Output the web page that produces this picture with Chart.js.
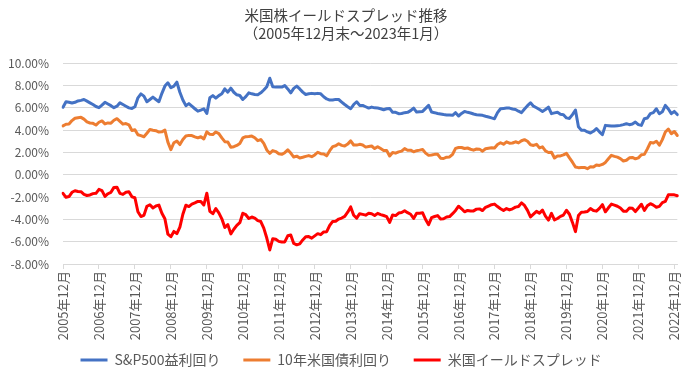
<!DOCTYPE html>
<html><head><meta charset="utf-8">
<script src="https://cdn.jsdelivr.net/npm/chart.js@4/dist/chart.umd.min.js"></script>
<style>html,body{margin:0;padding:0;background:#fff}</style>
</head><body>
<canvas id="c" width="692" height="381"></canvas>
<script>
// Categories: month-end from 2005年12月 to 2023年1月
const startYear = 2005, startMonth = 12, monthCount = 206;
const categories = [];
for (let i = 0; i < monthCount; i++) {
  const m = (startMonth - 1 + i) % 12 + 1;
  const y = startYear + Math.floor((startMonth - 1 + i) / 12);
  categories.push(y + '年' + m + '月');
}
const titleLines = ['米国株イールドスプレッド推移', '（2005年12月末～2023年1月）'];
const seriesNames = ['S&P500益利回り', '10年米国債利回り', '米国イールドスプレッド'];
const yTicks = [-8, -6, -4, -2, 0, 2, 4, 6, 8, 10];

const sp500Yield = [
6.05,6.55,6.50,6.43,6.50,6.62,6.67,6.75,6.60,6.45,6.30,6.12,
6.02,6.25,6.50,6.35,6.20,6.02,6.15,6.45,6.30,6.15,6.00,5.95,
6.10,6.90,7.25,7.05,6.55,6.75,6.96,6.75,6.55,7.30,7.95,8.25,
7.80,7.95,8.30,7.40,6.70,6.20,6.38,6.15,5.92,5.70,5.80,5.92,
5.50,6.90,7.10,6.87,7.10,7.26,7.70,7.41,7.77,7.40,7.17,7.11,
6.75,7.00,7.35,7.26,7.20,7.17,7.35,7.60,7.90,8.66,7.90,7.86,
7.86,7.86,8.00,7.70,7.35,7.75,7.95,7.70,7.41,7.20,7.26,7.30,
7.26,7.30,7.26,7.00,6.80,6.70,6.70,6.76,6.75,6.52,6.30,6.10,
5.92,6.30,6.55,6.22,6.22,6.10,5.98,6.07,6.00,5.98,5.92,5.83,
5.92,5.95,5.60,5.60,5.48,5.50,5.57,5.60,5.75,5.98,5.62,5.65,
5.68,5.95,6.22,5.62,5.57,5.50,5.45,5.40,5.37,5.35,5.33,5.57,
5.27,5.50,5.68,5.60,5.54,5.45,5.39,5.36,5.33,5.25,5.18,5.10,
5.03,5.57,5.92,5.95,5.98,5.98,5.90,5.86,5.70,5.57,5.90,6.20,
6.46,6.15,6.01,5.85,5.68,5.85,6.07,5.48,5.55,5.60,5.42,5.39,
5.10,5.05,5.40,5.80,4.30,4.00,4.00,3.84,3.75,3.90,4.14,3.85,
3.60,4.43,4.40,4.37,4.37,4.40,4.43,4.50,4.58,4.49,4.55,4.73,
4.50,4.43,5.03,5.09,5.48,5.57,5.92,5.48,5.65,6.22,5.90,5.48,
5.68,5.40];

const treasury10y = [
4.39,4.53,4.55,4.86,5.07,5.12,5.15,4.99,4.74,4.64,4.61,4.46,
4.71,4.83,4.56,4.65,4.63,4.89,5.03,4.78,4.54,4.59,4.48,3.97,
4.04,3.59,3.51,3.41,3.73,4.06,3.99,3.95,3.83,3.85,4.01,2.93,
2.25,2.87,3.02,2.71,3.16,3.47,3.53,3.52,3.40,3.31,3.41,3.21,
3.85,3.63,3.61,3.84,3.69,3.31,2.97,2.94,2.47,2.52,2.63,2.81,
3.30,3.42,3.43,3.47,3.32,3.06,3.16,2.82,2.23,1.92,2.17,2.08,
1.89,1.83,1.98,2.23,1.95,1.59,1.67,1.51,1.57,1.65,1.72,1.62,
1.78,2.02,1.89,1.87,1.70,2.16,2.52,2.60,2.78,2.64,2.57,2.75,
3.04,2.67,2.66,2.73,2.67,2.48,2.53,2.58,2.35,2.52,2.35,2.18,
2.17,1.68,2.00,1.94,2.05,2.12,2.35,2.20,2.21,2.06,2.16,2.21,
2.27,1.94,1.74,1.78,1.83,1.84,1.49,1.46,1.58,1.60,1.84,2.37,
2.45,2.45,2.36,2.40,2.29,2.21,2.31,2.30,2.12,2.33,2.38,2.42,
2.40,2.72,2.87,2.74,2.95,2.83,2.85,2.96,2.86,3.05,3.15,3.01,
2.69,2.63,2.73,2.41,2.51,2.14,2.00,2.02,1.50,1.68,1.69,1.78,
1.92,1.51,1.13,0.70,0.64,0.65,0.66,0.55,0.72,0.69,0.88,0.84,
0.93,1.11,1.44,1.74,1.65,1.58,1.45,1.24,1.30,1.52,1.55,1.43,
1.52,1.79,1.83,2.32,2.89,2.85,3.01,2.65,3.15,3.83,4.10,3.68,
3.88,3.52];

const yieldSpread = [
-1.66,-2.02,-1.95,-1.57,-1.43,-1.50,-1.52,-1.76,-1.86,-1.81,-1.69,-1.66,
-1.31,-1.42,-1.94,-1.70,-1.57,-1.13,-1.12,-1.67,-1.76,-1.56,-1.52,-1.98,
-2.06,-3.31,-3.74,-3.64,-2.82,-2.69,-2.97,-2.80,-2.72,-3.45,-3.94,-5.32,
-5.55,-5.08,-5.28,-4.69,-3.54,-2.73,-2.85,-2.63,-2.52,-2.39,-2.39,-2.71,
-1.65,-3.27,-3.49,-3.03,-3.41,-3.95,-4.73,-4.47,-5.30,-4.88,-4.54,-4.30,
-3.45,-3.58,-3.92,-3.79,-3.88,-4.11,-4.19,-4.78,-5.67,-6.74,-5.73,-5.78,
-5.97,-6.03,-6.02,-5.47,-5.40,-6.16,-6.28,-6.19,-5.84,-5.55,-5.54,-5.68,
-5.48,-5.28,-5.37,-5.13,-5.10,-4.54,-4.18,-4.16,-3.97,-3.88,-3.73,-3.35,
-2.88,-3.63,-3.89,-3.49,-3.55,-3.62,-3.45,-3.49,-3.65,-3.46,-3.57,-3.65,
-3.75,-4.27,-3.60,-3.66,-3.43,-3.38,-3.22,-3.40,-3.54,-3.92,-3.46,-3.44,
-3.41,-4.01,-4.48,-3.84,-3.74,-3.66,-3.96,-3.94,-3.79,-3.75,-3.49,-3.20,
-2.82,-3.05,-3.32,-3.20,-3.25,-3.24,-3.08,-3.06,-3.21,-2.92,-2.80,-2.68,
-2.63,-2.85,-3.05,-3.21,-3.03,-3.15,-3.05,-2.90,-2.84,-2.52,-2.75,-3.19,
-3.77,-3.52,-3.28,-3.44,-3.17,-3.71,-4.07,-3.46,-4.05,-3.92,-3.73,-3.61,
-3.18,-3.54,-4.27,-5.10,-3.66,-3.35,-3.34,-3.29,-3.03,-3.21,-3.26,-3.01,
-2.67,-3.32,-2.96,-2.63,-2.72,-2.82,-2.98,-3.26,-3.28,-2.97,-3.00,-3.30,
-2.98,-2.64,-3.20,-2.77,-2.59,-2.72,-2.91,-2.83,-2.50,-2.39,-1.80,-1.80,
-1.80,-1.88];

const FONT = "'Noto Sans CJK JP', 'Liberation Sans', sans-serif";
const TXT = '#595959';
const GRID = '#d9d9d9';

function ds(label, data, color) {
  return { label, data, borderColor: color, backgroundColor: color, borderWidth: 3,
    pointRadius: 0, pointHoverRadius: 0, tension: 0, borderJoinStyle: 'round', borderCapStyle: 'round', fill: false,
    yAxisID: 'y' };
}

new Chart(document.getElementById('c'), {
  type: 'line',
  data: {
    labels: categories,
    datasets: [
      ds(seriesNames[0], sp500Yield, '#4472C4'),
      ds(seriesNames[1], treasury10y, '#ED7D31'),
      ds(seriesNames[2], yieldSpread, '#FF0000')
    ]
  },
  options: {
    responsive: false,
    animation: false,
    events: [],
    layout: { padding: { left: 0, right: 0, top: 0, bottom: 4 } },
    plugins: {
      tooltip: { enabled: false },
      title: {
        display: true, text: titleLines, color: '#404040',
        font: { family: FONT, size: 14.5, weight: 'normal', lineHeight: 1.25 },
        padding: { top: 6, bottom: 21 }
      },
      legend: {
        position: 'bottom',
        fullSize: true,
        labels: {
          color: TXT, font: { family: FONT, size: 14 },
          usePointStyle: true, pointStyle: 'line', pointStyleWidth: 27, padding: 13,
          generateLabels: (chart) => Chart.defaults.plugins.legend.labels.generateLabels(chart)
            .map(l => Object.assign(l, { text: l.text + '\u2002\u2009' }))
        }
      }
    },
    scales: {
      x: {
        type: 'category',
        offset: false,
        afterBuildTicks: (scale) => { scale.ticks = scale.ticks.filter(t => t.value % 12 === 0); },
        afterFit: (scale) => { scale.height = 76; },
        grid: { display: true, drawOnChartArea: false, drawTicks: true, tickLength: 5, color: GRID },
        border: { display: true, color: GRID },
        ticks: { autoSkip: false, maxRotation: 90, minRotation: 90, padding: 2, color: TXT,
          font: { family: FONT, size: 13 } }
      },
      y: {
        position: 'left',
        min: -8, max: 10,
        afterBuildTicks: (scale) => { scale.ticks = yTicks.map(v => ({ value: v })); },
        afterFit: (scale) => { scale.width = 63; },
        grid: { color: GRID, drawTicks: false },
        border: { display: false },
        ticks: { padding: 14, color: TXT, font: { family: FONT, size: 12 },
          callback: (v) => Number(v).toFixed(2) + '%' }
      },
      yRight: {
        position: 'right',
        min: -8, max: 10,
        afterFit: (scale) => { scale.width = 13; },
        grid: { display: false },
        border: { display: false },
        ticks: { display: false }
      }
    }
  }
});
</script>
</body></html>
